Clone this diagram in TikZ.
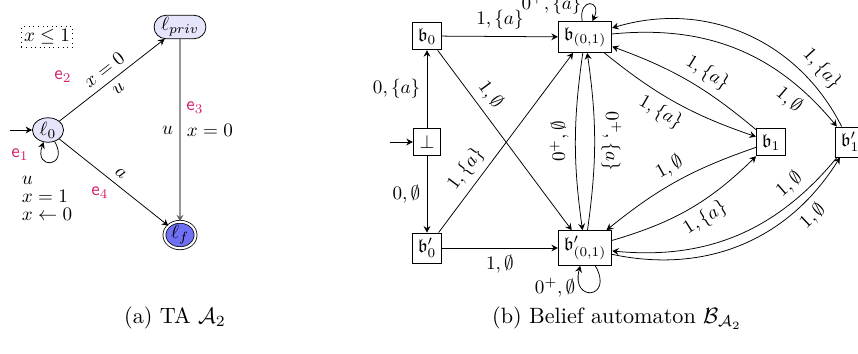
\documentclass[tikz,border=0pt]{standalone}
\usepackage{amssymb}
\usetikzlibrary{shapes.geometric,shapes.misc,arrows.meta}
\definecolor{emag}{RGB}{214,30,110}
\definecolor{lav}{RGB}{228,228,250}
\definecolor{fblue}{RGB}{112,112,245}
\begin{document}
\begin{tikzpicture}[x=0.523pt,y=-0.523pt,>={Stealth[length=3.4pt,width=3.6pt,inset=1.2pt]},
  box/.style={draw,rectangle,inner sep=2.9pt,minimum height=14.5pt,minimum width=14.5pt},
  loc/.style={draw,ellipse,fill=lav,inner sep=0pt,minimum width=16.3pt,minimum height=12.8pt},
  ename/.style={text=emag,font=\sffamily},
  captxt/.style={scale=1.16}]
\useasboundingbox (0,0) rectangle (858,353);
% ---------- (a) TA ----------
\node[draw,dotted,inner sep=1.4pt] (inv) at (47,37) {$x\le 1$};
\node[loc] (l0) at (48,130) {$\ell_0$};
\node[draw,rounded rectangle,fill=lav,inner sep=1.2pt,minimum width=26.7pt,minimum height=12.1pt] (lp) at (180,27) {$\ell_{priv}$};
\node[draw,ellipse,double,double distance=1.1pt,fill=fblue,inner sep=0pt,minimum width=16.3pt,minimum height=11.6pt] (lf) at (180,235) {$\ell_f$};
\coordinate (ia) at (10,130);
\draw[->] (ia) -- (l0);
\draw[->] (l0) -- node[sloped,above]{$x=0$} node[sloped,below]{$u$} (lp);
\draw[->] (l0) -- node[sloped,above]{$a$} (lf);
\draw[->,draw=black!62,line width=0.55pt] (lp) -- node[left,text=black]{$u$} node[right,text=black]{$x=0$} (lf);
\draw[->] (l0) to[out=-60,in=-110,looseness=7] (l0);
\node[ename] (e1) at (20,155) {e$_1$};
\node[ename] (e2) at (63,77) {e$_2$};
\node[ename] (e3) at (195,108) {e$_3$};
\node[ename] (e4) at (100,193) {e$_4$};
\node[align=left,font=\fontsize{10}{9.4}\selectfont] (g1) at (47,198) {$u$\\$x=1$\\$x\leftarrow 0$};
% ---------- (b) Belief automaton ----------
\node[box] (bot) at (427,142) {$\bot$};
\node[box] (b0) at (427,36) {$\mathfrak{b}_0$};
\node[box] (bp0) at (427,248) {$\mathfrak{b}'_0$};
\node[box] (b01) at (585,37) {$\mathfrak{b}_{(0,1)}$};
\node[box] (bp01) at (585,248) {$\mathfrak{b}'_{(0,1)}$};
\node[box] (b1) at (771,142) {$\mathfrak{b}_1$};
\node[box] (bp1) at (850,142) {$\mathfrak{b}'_1$};
\coordinate (ib) at (390,142);
\draw[->] (ib) -- (bot);
\draw[->] (bot) -- node[left]{$0,\{a\}$} (b0);
\draw[->] (bot) -- node[left]{$0,\emptyset$} (bp0);
\draw[->] (b0) -- node[above]{$1,\{a\}$} (b01);
\draw[->] (bp0) -- node[below]{$1,\emptyset$} (bp01);
\draw[->] (b0) -- node[sloped,above,pos=0.3]{$1,\emptyset$} (bp01);
\draw[->] (bp0) -- node[sloped,above,pos=0.3]{$1,\{a\}$} (b01);
\draw[->] (b01) to[out=100,in=65,looseness=6] node[pos=0.45,left]{$0^+,\{a\}$} (b01);
\draw[->] (bp01) to[out=-60,in=-105,looseness=6.5] node[pos=0.72,left]{$0^+,\emptyset$} (bp01);
\draw[->] (b01) to[bend right=8] node[midway,rotate=90,anchor=south]{$0^+,\emptyset$} (bp01);
\draw[->] (bp01) to[bend right=8] node[midway,rotate=-90,anchor=south]{$0^+,\{a\}$} (b01);
\draw[->] (b01) to[bend right=10] node[sloped,below,pos=0.45]{$1,\{a\}$} (b1);
\draw[->] (b1) to[bend right=10] node[sloped,above,pos=0.42]{$1,\{a\}$} (b01);
\draw[->] (b01) to[bend left=28] node[sloped,below,pos=0.8]{$1,\emptyset$} (bp1);
\draw[->] (bp1) to[bend right=40] node[sloped,above,pos=0.2]{$1,\{a\}$} (b01);
\draw[->] (b1) to[bend right=10] node[sloped,above,pos=0.5]{$1,\emptyset$} (bp01);
\draw[->] (bp01) to[bend right=14] node[sloped,below,pos=0.55]{$1,\{a\}$} (b1);
\draw[->] (bp1) to[bend left=28] node[sloped,above,pos=0.2]{$1,\emptyset$} (bp01);
\draw[->] (bp01) to[bend right=35] node[sloped,below,pos=0.78]{$1,\emptyset$} (bp1);
% ---------- captions ----------
\node[captxt] (capa) at (175,318) {(a) TA $\mathcal{A}_2$};
\node[captxt] (capb) at (617,318) {(b) Belief automaton $\mathcal{B}_{\mathcal{A}_2}$};
\end{tikzpicture}
\end{document}
